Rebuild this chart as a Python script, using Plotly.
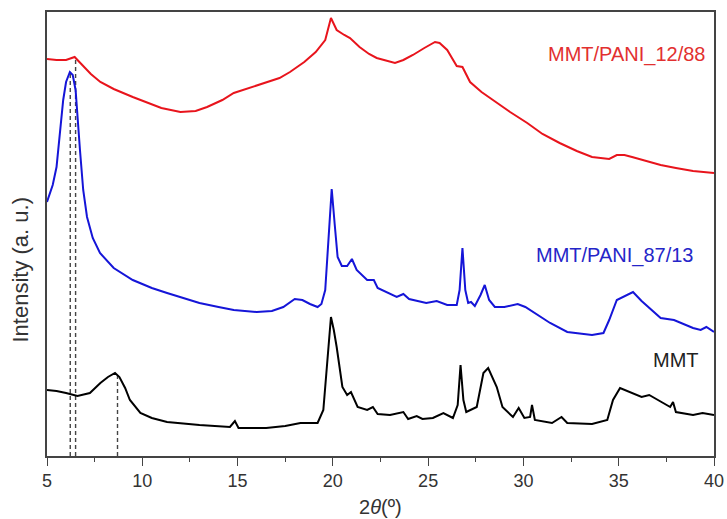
import plotly.graph_objects as go

# 2-theta (degrees) and intensity (a.u.)
red_x = [5.0, 5.5, 6.0, 6.45, 6.8, 7.3, 7.8, 8.5, 9.5, 10.3, 11.0, 12.0, 12.8, 13.4, 14.2, 14.8,
         15.6, 16.5, 17.2, 17.75, 18.5, 19.1, 19.6, 19.9, 20.2, 20.6, 20.9, 21.4, 21.9, 22.3,
         22.8, 23.26, 23.7, 24.2, 24.8, 25.36, 25.6, 26.0, 26.5, 26.8, 27.2, 27.8, 28.4, 29.3,
         30.2, 31.0, 31.9, 32.8, 33.6, 34.5, 34.9, 35.3, 35.7, 36.4, 37.2, 38.0, 38.9, 40.0]
red_y = [397, 396, 396, 399, 392, 382, 374, 367, 359, 353, 348, 344, 345, 349, 356, 363,
         368, 373, 378, 384, 394, 404, 416, 438, 426, 421, 418, 409, 402, 398,
         395, 393, 396, 401, 408, 414, 413, 406, 390, 389, 374, 364, 356, 344,
         333, 322, 313, 305, 299, 297, 301, 301, 299, 295, 291, 288, 285, 283]

blue_x = [5.0, 5.3, 5.5, 5.7, 5.85, 6.0, 6.2, 6.35, 6.5, 6.73, 6.9, 7.1, 7.4, 7.78, 8.5, 9.5,
          10.5, 11.3, 12.2, 13.0, 14.0, 14.8, 16.0, 16.8, 17.4, 18.0, 18.4, 18.8, 19.2, 19.4,
          19.6, 19.75, 19.94, 20.1, 20.25, 20.47, 20.75, 21.0, 21.25, 21.8, 22.15, 22.35, 22.8,
          23.35, 23.7, 24.0, 24.9, 25.45, 26.0, 26.5, 26.65, 26.8, 26.95, 27.1, 27.25, 27.45,
          27.75, 27.97, 28.2, 28.5, 29.0, 29.7, 30.1, 30.5, 31.4, 32.3, 33.0, 33.6, 34.2, 34.5,
          34.9, 35.4, 35.75, 36.2, 36.6, 37.2, 37.9, 38.4, 38.9, 39.3, 39.6, 40.0]
blue_y = [254, 271, 289, 326, 356, 374, 384, 381, 366, 306, 266, 239, 218, 203, 188, 176,
          168, 163, 158, 153, 149, 146, 144, 145, 149, 157, 156, 152, 149, 152,
          166, 216, 267, 231, 199, 190, 190, 197, 186, 176, 176, 168, 164,
          159, 162, 157, 153, 155, 151, 151, 166, 208, 166, 153, 154, 150,
          161, 171, 156, 149, 149, 152, 149, 144, 133, 124, 122, 121, 123, 136,
          156, 161, 164, 155, 148, 138, 136, 132, 128, 126, 129, 124]

black_x = [5.0, 5.5, 6.0, 6.6, 7.25, 7.8, 8.2, 8.57, 8.8, 9.1, 9.35, 9.9, 10.5, 11.3, 13.0,
           14.6, 14.86, 15.05, 16.5, 17.5, 18.3, 19.2, 19.5, 19.7, 19.9, 20.05, 20.2, 20.5,
           20.75, 20.95, 21.3, 21.8, 22.1, 22.35, 23.0, 23.7, 23.95, 24.4, 24.7, 25.25, 25.8,
           26.3, 26.55, 26.7, 26.85, 27.0, 27.55, 27.9, 28.15, 28.6, 28.9, 29.45, 29.75, 30.05,
           30.35, 30.45, 30.6, 31.5, 32.0, 32.3, 33.6, 34.4, 34.7, 35.07, 35.75, 36.2, 36.6,
           37.2, 37.7, 37.85, 38.0, 38.9, 39.4, 40.0]
black_y = [66, 65, 63, 60, 63, 73, 79, 83, 79, 68, 56, 43, 38, 34, 31,
           29, 35, 28, 28, 30, 33, 33, 46, 96, 139, 126, 109, 69,
           61, 64, 49, 46, 49, 42, 41, 44, 37, 40, 37, 38, 43,
           38, 51, 91, 56, 44, 49, 83, 88, 69, 49, 39, 48, 38,
           39, 51, 36, 33, 39, 33, 32, 36, 56, 68, 63, 59, 61,
           54, 49, 54, 44, 41, 43, 41]

# reference lines: peak positions and the heights they reach
ref_x = [6.22, 6.5, 8.7]
ref_top = [384, 397, 80]

series_names = ["MMT/PANI_12/88", "MMT/PANI_87/13", "MMT"]
series_colors = ["#e8141c", "#1515d8", "#000000"]
label_colors = ["#e23030", "#2525c8", "#222222"]
label_x = [35.4, 34.77, 38.0]
label_y = [402, 201, 96]

fig = go.Figure()

for xv, top in zip(ref_x, ref_top):
    fig.add_trace(go.Scatter(x=[xv, xv], y=[0, top], mode="lines",
                             line=dict(color="#444444", width=1.4, dash="4px,3px"),
                             showlegend=False, hoverinfo="skip"))

for xs, ys, name, col in zip([red_x, blue_x, black_x], [red_y, blue_y, black_y],
                             series_names, series_colors):
    fig.add_trace(go.Scatter(x=xs, y=ys, mode="lines", name=name,
                             line=dict(color=col, width=2), showlegend=False))

for name, col, lx, ly in zip(series_names, label_colors, label_x, label_y):
    fig.add_annotation(x=lx, y=ly, xref="x", yref="y", text=name, showarrow=False,
                       font=dict(family="Liberation Sans, Arial", size=20, color=col),
                       xanchor="center", yanchor="middle")

fig.add_annotation(x=-0.039, y=0.42, xref="paper", yref="paper",
                   text="Intensity (a. u.)", textangle=-90, showarrow=False,
                   font=dict(family="Liberation Sans, Arial", size=22, color="#333333"),
                   xanchor="center", yanchor="middle")
fig.add_annotation(x=0.5, y=-0.115, xref="paper", yref="paper",
                   text="2<i>θ</i>(º)", showarrow=False,
                   font=dict(family="Liberation Sans, Arial", size=20, color="#333333"),
                   xanchor="center", yanchor="middle")

fig.update_layout(
    width=727, height=519, autosize=False,
    margin=dict(l=47, r=13, t=12, b=63),
    paper_bgcolor="white", plot_bgcolor="white",
    xaxis=dict(range=[5, 40], tickmode="linear", tick0=5, dtick=5,
               ticks="outside", ticklen=8, tickwidth=1.3, tickcolor="#444444",
               minor=dict(dtick=2.5, ticks="outside", ticklen=4, tickwidth=1.3, tickcolor="#444444"),
               showgrid=False, zeroline=False, showline=True, linecolor="#444444", linewidth=1.5,
               mirror=True, automargin=False,
               tickfont=dict(family="Liberation Sans, Arial", size=18, color="#333333")),
    yaxis=dict(range=[0, 444], showticklabels=False, ticks="", showgrid=False, zeroline=False,
               showline=True, linecolor="#444444", linewidth=1.5, mirror=True, automargin=False),
)

fig.write_html("out.html", config={"responsive": False, "displayModeBar": False},
               post_script="document.body.style.margin='0px';document.body.style.overflow='hidden';")
